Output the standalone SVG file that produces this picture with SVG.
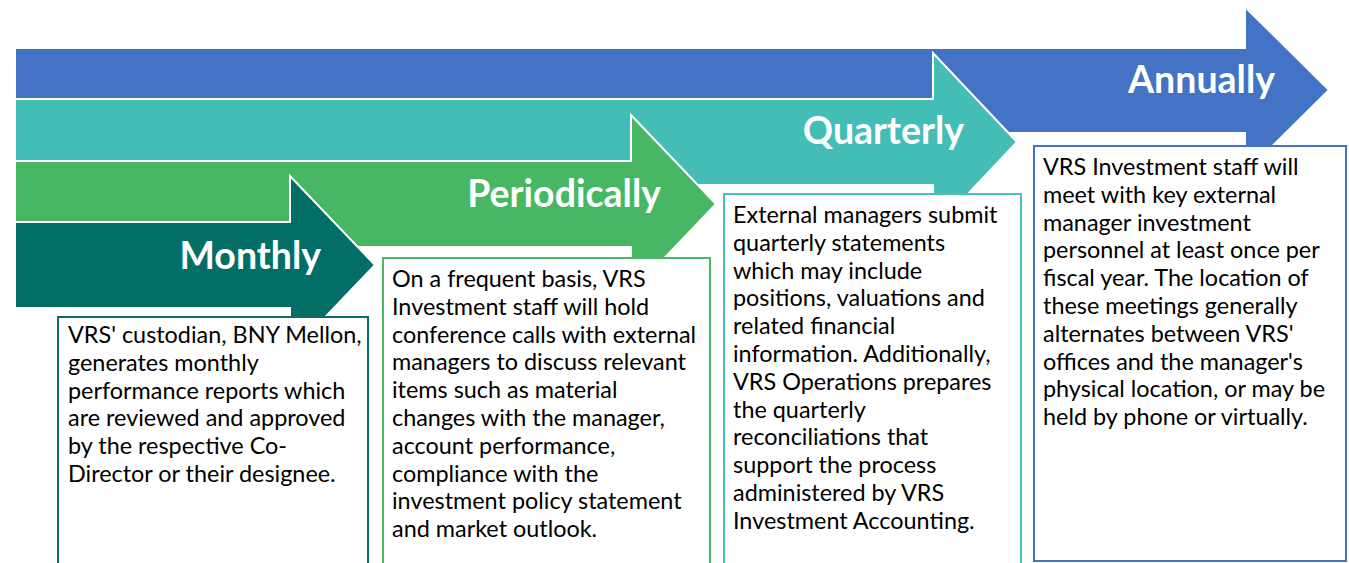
<svg xmlns="http://www.w3.org/2000/svg" width="1349" height="563" viewBox="0 0 1349 563">
  <style>
    .arrow { stroke: #ffffff; stroke-width: 2; stroke-linejoin: miter; }
    .title { font-family: Lato, "Open Sans", "Liberation Sans", sans-serif; font-weight: bold; font-size: 37.5px; fill: #ffffff; text-anchor: end; }
    .box { fill: #ffffff; stroke-width: 2; }
    .body { font-family: Lato, "Open Sans", "Liberation Sans", sans-serif; font-size: 23.4px; fill: #000000; }
  </style>
  <rect width="1349" height="563" fill="#ffffff"/>

  <!-- frequency bands, drawn back to front -->
  <g id="connectors">
    <polygon id="arrow-annually" class="arrow" fill="#4472C4" points="15,48 1245,48 1245,7 1329,90 1245,173 1245,133 15,133"/>
    <polygon id="arrow-quarterly" class="arrow" fill="#44BDB7" points="15,99 933,99 933,53 1017,142 933,231 933,185 15,185"/>
    <polygon id="arrow-periodically" class="arrow" fill="#48B763" points="15,161 631,161 631,115 716,204 631,293 631,247 15,247"/>
    <polygon id="arrow-monthly" class="arrow" fill="#036E66" points="15,222 290,222 290,176 375,265 290,354 290,308 15,308"/>
  </g>

  <g id="label-annually"><text class="title" x="1275" y="93">Annually</text></g>
  <g id="label-quarterly"><text class="title" x="964" y="144">Quarterly</text></g>
  <g id="label-periodically"><text class="title" x="661" y="207">Periodically</text></g>
  <g id="label-monthly"><text class="title" x="321" y="269">Monthly</text></g>

  <g id="node-monthly">
    <rect class="box" stroke="#0B6E66" x="58" y="317" width="310" height="260"/>
    <text class="body" x="68" y="343">
      <tspan x="68" dy="0">VRS' custodian, BNY Mellon,</tspan>
      <tspan x="68" dy="27.8">generates monthly</tspan>
      <tspan x="68" dy="27.8">performance reports which</tspan>
      <tspan x="68" dy="27.8">are reviewed and approved</tspan>
      <tspan x="68" dy="27.8">by the respective Co-</tspan>
      <tspan x="68" dy="27.8">Director or their designee.</tspan>
    </text>
  </g>

  <g id="node-periodically">
    <rect class="box" stroke="#4CB865" x="383" y="258" width="327" height="320"/>
    <text class="body" x="392" y="287">
      <tspan x="392" dy="0">On a frequent basis, VRS</tspan>
      <tspan x="392" dy="27.8">Investment staff will hold</tspan>
      <tspan x="392" dy="27.8">conference calls with external</tspan>
      <tspan x="392" dy="27.8">managers to discuss relevant</tspan>
      <tspan x="392" dy="27.8">items such as material</tspan>
      <tspan x="392" dy="27.8">changes with the manager,</tspan>
      <tspan x="392" dy="27.8">account performance,</tspan>
      <tspan x="392" dy="27.8">compliance with the</tspan>
      <tspan x="392" dy="27.8">investment policy statement</tspan>
      <tspan x="392" dy="27.8">and market outlook.</tspan>
    </text>
  </g>

  <g id="node-quarterly">
    <rect class="box" stroke="#4BC0B8" x="724" y="194" width="297" height="390"/>
    <text class="body" x="733" y="223">
      <tspan x="733" dy="0">External managers submit</tspan>
      <tspan x="733" dy="27.8">quarterly statements</tspan>
      <tspan x="733" dy="27.8">which may include</tspan>
      <tspan x="733" dy="27.8">positions, valuations and</tspan>
      <tspan x="733" dy="27.8">related financial</tspan>
      <tspan x="733" dy="27.8">information. Additionally,</tspan>
      <tspan x="733" dy="27.8">VRS Operations prepares</tspan>
      <tspan x="733" dy="27.8">the quarterly</tspan>
      <tspan x="733" dy="27.8">reconciliations that</tspan>
      <tspan x="733" dy="27.8">support the process</tspan>
      <tspan x="733" dy="27.8">administered by VRS</tspan>
      <tspan x="733" dy="27.8">Investment Accounting.</tspan>
    </text>
  </g>

  <g id="node-annually">
    <rect class="box" stroke="#4472C4" x="1034" y="146" width="312" height="415"/>
    <text class="body" x="1043" y="175">
      <tspan x="1043" dy="0">VRS Investment staff will</tspan>
      <tspan x="1043" dy="27.8">meet with key external</tspan>
      <tspan x="1043" dy="27.8">manager investment</tspan>
      <tspan x="1043" dy="27.8">personnel at least once per</tspan>
      <tspan x="1043" dy="27.8">fiscal year. The location of</tspan>
      <tspan x="1043" dy="27.8">these meetings generally</tspan>
      <tspan x="1043" dy="27.8">alternates between VRS'</tspan>
      <tspan x="1043" dy="27.8">offices and the manager's</tspan>
      <tspan x="1043" dy="27.8">physical location, or may be</tspan>
      <tspan x="1043" dy="27.8">held by phone or virtually.</tspan>
    </text>
  </g>
</svg>
